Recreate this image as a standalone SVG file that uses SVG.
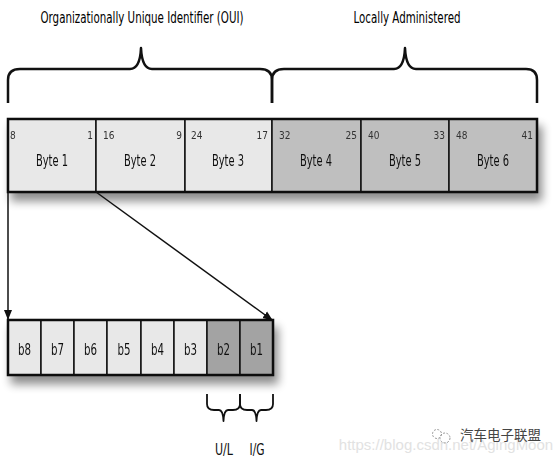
<svg xmlns="http://www.w3.org/2000/svg" width="554" height="461" viewBox="0 0 554 461">
<style>
.cell{stroke:#111;stroke-width:1.5}
.l{fill:#e8e8e8}.d{fill:#bfbfbf}.dd{fill:#a3a3a3}
.num{font-family:"DejaVu Sans Condensed","Liberation Sans",sans-serif;font-size:10px;fill:#333}
.lab{font-family:"DejaVu Sans Condensed","Liberation Sans",sans-serif;font-size:16px;fill:#111;text-anchor:middle}
.bit{font-family:"DejaVu Sans Condensed","Liberation Sans",sans-serif;font-size:16px;fill:#111;text-anchor:middle}
.hd{font-family:"DejaVu Sans Condensed","Liberation Sans",sans-serif;font-size:15px;fill:#000;text-anchor:middle}
.br{fill:none;stroke:#111;stroke-width:2.5;stroke-linejoin:round}
.con{fill:none;stroke:#111;stroke-width:1.5}
</style>
<defs>
<filter id="sh" x="-10%" y="-20%" width="130%" height="160%">
<feGaussianBlur in="SourceAlpha" stdDeviation="5"/>
<feOffset dx="4" dy="8" result="b"/>
<feComponentTransfer><feFuncA type="linear" slope="0.45"/></feComponentTransfer>
<feMerge><feMergeNode/><feMergeNode in="SourceGraphic"/></feMerge>
</filter>
<marker id="ar" markerWidth="10" markerHeight="10" refX="9" refY="5" orient="auto" markerUnits="userSpaceOnUse">
<path d="M0,1 L10,5 L0,9 Z" fill="#111"/>
</marker>
</defs>
<rect width="554" height="461" fill="#fff"/>
<text class="hd" x="142" y="23" textLength="203" lengthAdjust="spacingAndGlyphs">Organizationally Unique Identifier (OUI)</text>
<text class="hd" x="407" y="23" textLength="107" lengthAdjust="spacingAndGlyphs">Locally Administered</text>
<g id="braces">
<path class="br" d="M8,103 V80 Q8,69 20,69 H130 Q140,69 141,48 Q142,69 152,69 H260 Q272,69 272,80 V103"/>
<path class="br" d="M272,103 V80 Q272,69 284,69 H394 Q404,69 405,48 Q406,69 416,69 H526 Q537,69 537,80 V103"/>
<path class="br" style="stroke-width:1.8" d="M207,394 V404 Q207,410 214,410 H219 Q223,410 223.5,421 Q224,410 228,410 H233 Q240,410 240,404 V394"/>
<path class="br" style="stroke-width:1.8" d="M240,394 V404 Q240,410 247,410 H252 Q256,410 256.5,421 Q257,410 261,410 H266 Q273,410 273,404 V394"/>
</g>
<g id="bytes" filter="url(#sh)">
<g id="byte1"><rect class="cell l" x="8" y="119" width="88" height="73"/><text class="num" x="10" y="139">8</text><text class="num" x="93" y="139" text-anchor="end">1</text><text class="lab" x="52" y="166" textLength="32" lengthAdjust="spacingAndGlyphs">Byte 1</text></g>
<g id="byte2"><rect class="cell l" x="96" y="119" width="89" height="73"/><text class="num" x="103" y="139">16</text><text class="num" x="182" y="139" text-anchor="end">9</text><text class="lab" x="140" y="166" textLength="32" lengthAdjust="spacingAndGlyphs">Byte 2</text></g>
<g id="byte3"><rect class="cell l" x="185" y="119" width="87" height="73"/><text class="num" x="191" y="139">24</text><text class="num" x="268" y="139" text-anchor="end">17</text><text class="lab" x="228" y="166" textLength="32" lengthAdjust="spacingAndGlyphs">Byte 3</text></g>
<g id="byte4"><rect class="cell d" x="272" y="119" width="89" height="73"/><text class="num" x="279" y="139">32</text><text class="num" x="357" y="139" text-anchor="end">25</text><text class="lab" x="316" y="166" textLength="32" lengthAdjust="spacingAndGlyphs">Byte 4</text></g>
<g id="byte5"><rect class="cell d" x="361" y="119" width="88" height="73"/><text class="num" x="368" y="139">40</text><text class="num" x="445" y="139" text-anchor="end">33</text><text class="lab" x="405" y="166" textLength="32" lengthAdjust="spacingAndGlyphs">Byte 5</text></g>
<g id="byte6"><rect class="cell d" x="449" y="119" width="88" height="73"/><text class="num" x="456" y="139">48</text><text class="num" x="533" y="139" text-anchor="end">41</text><text class="lab" x="493" y="166" textLength="32" lengthAdjust="spacingAndGlyphs">Byte 6</text></g>
<rect x="8" y="119" width="529" height="73" fill="none" stroke="#111" stroke-width="2.5"/>
</g>
<g id="connectors">
<path class="con" d="M8,192 V319" marker-end="url(#ar)"/>
<path class="con" d="M96,192 L272,320" marker-end="url(#ar)"/>
</g>
<g id="bits" filter="url(#sh)">
<g id="b8"><rect class="cell l" x="8" y="320" width="33" height="55"/><text class="bit" x="24.5" y="355" textLength="13" lengthAdjust="spacingAndGlyphs">b8</text></g>
<g id="b7"><rect class="cell l" x="41" y="320" width="33" height="55"/><text class="bit" x="57.5" y="355" textLength="13" lengthAdjust="spacingAndGlyphs">b7</text></g>
<g id="b6"><rect class="cell l" x="74" y="320" width="33" height="55"/><text class="bit" x="90.5" y="355" textLength="13" lengthAdjust="spacingAndGlyphs">b6</text></g>
<g id="b5"><rect class="cell l" x="107" y="320" width="34" height="55"/><text class="bit" x="124" y="355" textLength="13" lengthAdjust="spacingAndGlyphs">b5</text></g>
<g id="b4"><rect class="cell l" x="141" y="320" width="33" height="55"/><text class="bit" x="157.5" y="355" textLength="13" lengthAdjust="spacingAndGlyphs">b4</text></g>
<g id="b3"><rect class="cell l" x="174" y="320" width="33" height="55"/><text class="bit" x="190.5" y="355" textLength="13" lengthAdjust="spacingAndGlyphs">b3</text></g>
<g id="b2"><rect class="cell dd" x="207" y="320" width="33" height="55"/><text class="bit" x="223.5" y="355" textLength="13" lengthAdjust="spacingAndGlyphs">b2</text></g>
<g id="b1"><rect class="cell dd" x="240" y="320" width="33" height="55"/><text class="bit" x="256.5" y="355" textLength="13" lengthAdjust="spacingAndGlyphs">b1</text></g>
<rect x="8" y="320" width="265" height="55" fill="none" stroke="#111" stroke-width="2.5"/>
</g>
<text class="lab" x="224" y="455" style="font-size:15px" textLength="18" lengthAdjust="spacingAndGlyphs">U/L</text>
<text class="lab" x="257" y="455" style="font-size:15px" textLength="15" lengthAdjust="spacingAndGlyphs">I/G</text>
<g id="watermark">
<text x="446" y="450" text-anchor="middle" style="font-family:'Liberation Sans',sans-serif;font-size:15px;fill:#e2e2e2">https://blog.csdn.net/AgingMoon</text>
<circle cx="437" cy="434" r="4.5" fill="none" stroke="#999" stroke-width="1" stroke-dasharray="2 1.5"/>
<circle cx="445" cy="438" r="5" fill="none" stroke="#999" stroke-width="1" stroke-dasharray="2 1.5"/>
<text x="460" y="440" style="font-family:'Noto Sans CJK SC',sans-serif;font-size:13.5px;fill:#444">汽车电子联盟</text>
</g>
</svg>
